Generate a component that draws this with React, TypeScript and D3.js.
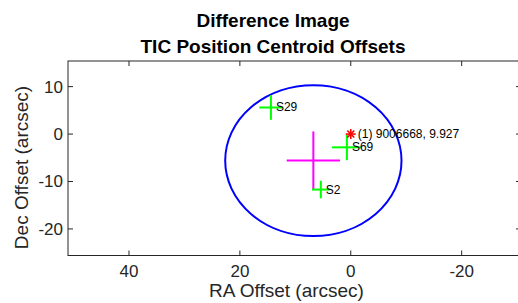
import React from 'react';
import * as d3 from 'd3';

// Values (arcsec)
const xTicks = [40, 20, 0, -20];
const yTicks = [10, 0, -10, -20];

const sourceNames = ['S29', 'S69', 'S2'];
const sourceRA = [14.4, 0.7, 5.4];
const sourceDec = [5.6, -2.8, -11.7];
const sourceRAErr = [2.1, 2.7, 1.6];
const sourceDecErr = [2.6, 2.7, 1.85];

const meanRA = [6.75];
const meanDec = [-5.6];
const meanRAErr = [4.8];
const meanDecErr = [6.15];
const circleRadius = [15.9];

const targetRA = [0];
const targetDec = [0];
const targetLabel = ['(1) 9006668, 9.927'];

const W = 518;
const H = 303;
const FONT = '"Liberation Sans", Arial, Helvetica, sans-serif';
const AX = '#262626';

export default function App() {
  const x = d3.scaleLinear().domain([51, -30.7]).range([68, 521]);
  const y = d3.scaleLinear().domain([15.4, -25.6]).range([61, 255.5]);
  const [x0, x1] = x.range();
  const [y0, y1] = y.range();
  const tick = 5;

  const cx = x(meanRA[0]);
  const cy = y(meanDec[0]);
  const rx = Math.abs(x(meanRA[0] + circleRadius[0]) - cx);
  const ry = Math.abs(y(meanDec[0] + circleRadius[0]) - cy);

  const tx = x(targetRA[0]);
  const ty = y(targetDec[0]);
  const s = 5;

  return (
    <svg width={W} height={H} style={{ position: 'absolute', left: 0, top: 0, background: '#fff' }} fontFamily={FONT}>
      {/* title */}
      <text x={273} y={27} textAnchor="middle" fontSize={19} fontWeight="bold" fill="#000">Difference Image</text>
      <text x={273} y={53} textAnchor="middle" fontSize={19} fontWeight="bold" fill="#000">TIC Position Centroid Offsets</text>

      {/* fit circle */}
      <ellipse cx={cx} cy={cy} rx={rx} ry={ry} fill="none" stroke="#0000ff" strokeWidth={2} />

      {/* mean centroid cross */}
      <g stroke="#ff00ff" strokeWidth={2}>
        <line x1={x(meanRA[0] + meanRAErr[0])} x2={x(meanRA[0] - meanRAErr[0])} y1={cy} y2={cy} />
        <line x1={cx} x2={cx} y1={y(meanDec[0] + meanDecErr[0])} y2={y(meanDec[0] - meanDecErr[0])} />
      </g>

      {/* per-sector centroids */}
      {sourceNames.map((name, i) => {
        const px = x(sourceRA[i]);
        const py = y(sourceDec[i]);
        return (
          <g key={name}>
            <g stroke="#00ff00" strokeWidth={2}>
              <line x1={x(sourceRA[i] + sourceRAErr[i])} x2={x(sourceRA[i] - sourceRAErr[i])} y1={py} y2={py} />
              <line x1={px} x2={px} y1={y(sourceDec[i] + sourceDecErr[i])} y2={y(sourceDec[i] - sourceDecErr[i])} />
            </g>
            <text x={px + 5} y={py + 4} fontSize={12} fill="#000">{name}</text>
          </g>
        );
      })}

      {/* target star */}
      <g stroke="#ff0000" strokeWidth={1.6}>
        <line x1={tx - s} x2={tx + s} y1={ty} y2={ty} />
        <line x1={tx} x2={tx} y1={ty - s} y2={ty + s} />
        <line x1={tx - s * 0.7} x2={tx + s * 0.7} y1={ty - s * 0.7} y2={ty + s * 0.7} />
        <line x1={tx - s * 0.7} x2={tx + s * 0.7} y1={ty + s * 0.7} y2={ty - s * 0.7} />
      </g>
      <text x={tx + 7} y={ty + 3.5} fontSize={12} fill="#000">{targetLabel[0]}</text>

      {/* axes box */}
      <rect x={x0} y={y0} width={x1 - x0} height={y1 - y0} fill="none" stroke={AX} strokeWidth={1} />
      {xTicks.map(t => (
        <g key={'x' + t}>
          <line x1={x(t)} x2={x(t)} y1={y1} y2={y1 - tick} stroke={AX} />
          <line x1={x(t)} x2={x(t)} y1={y0} y2={y0 + tick} stroke={AX} />
          <text x={x(t)} y={277} textAnchor="middle" fontSize={17} fill={AX}>{t}</text>
        </g>
      ))}
      {yTicks.map(t => (
        <g key={'y' + t}>
          <line x1={x0} x2={x0 + tick} y1={y(t)} y2={y(t)} stroke={AX} />
          <line x1={x1} x2={x1 - tick} y1={y(t)} y2={y(t)} stroke={AX} />
          <text x={63} y={y(t) + 6} textAnchor="end" fontSize={17} fill={AX}>{t}</text>
        </g>
      ))}

      {/* axis labels */}
      <text x={286.5} y={297} textAnchor="middle" fontSize={19} fill={AX}>RA Offset (arcsec)</text>
      <text transform="translate(27.5,167.5) rotate(-90)" textAnchor="middle" fontSize={19} fill={AX}>Dec Offset (arcsec)</text>
    </svg>
  );
}
